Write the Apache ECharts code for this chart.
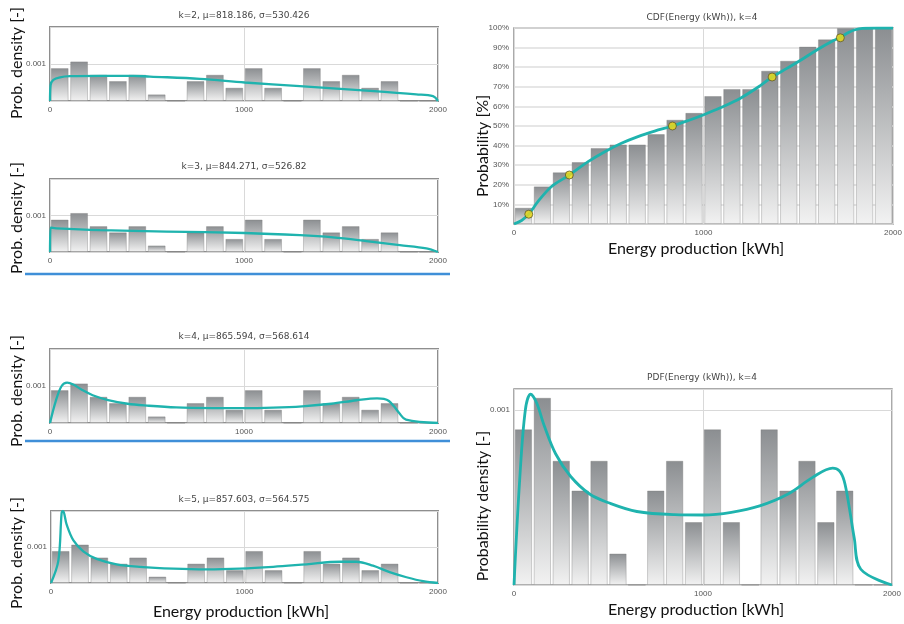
<!DOCTYPE html>
<html>
<head>
<meta charset="utf-8">
<script src="https://cdn.jsdelivr.net/npm/echarts@6/dist/echarts.min.js"></script>
<style>
html, body { margin: 0; padding: 0; background: #fff; }
#chart { width: 904px; height: 624px; }
</style>
</head>
<body>
<div id="chart"></div>
<script>
// histogram bins (kWh)
const bins = ['0-100', '100-200', '200-300', '300-400', '400-500', '500-600', '600-700', '700-800', '800-900', '900-1000',
  '1000-1100', '1100-1200', '1200-1300', '1300-1400', '1400-1500', '1500-1600', '1600-1700', '1700-1800', '1800-1900', '1900-2000'];

// histogram density per bin
const pdfBars = [0.00089, 0.00107, 0.00071, 0.00054, 0.00071, 0.00018, 0, 0.00054, 0.00071, 0.00036,
  0.00089, 0.00036, 0, 0.00089, 0.00054, 0.00071, 0.00036, 0.00054, 0, 0];

// cumulative histogram (%)
const cdfBars = [8.3, 19.2, 26.4, 31.6, 38.8, 40.6, 40.6, 45.9, 53.2, 56.7,
  65.3, 68.9, 68.9, 78.2, 83.3, 90.5, 94.2, 100, 100, 100];

// fitted densities
const k2X = [0, 3, 17, 52, 103, 258, 429, 515, 773, 1004, 1288, 1631, 1888, 1974, 2000];
const k2Y = [0, 0.00043, 0.00057, 0.00064, 0.00067, 0.00068, 0.00068, 0.00066, 0.0006, 0.0005, 0.0004, 0.00028, 0.00018, 0.00013, 0];

const k3X = [0, 3, 34, 258, 601, 1004, 1288, 1459, 1631, 1803, 1940, 2000];
const k3Y = [0, 0.00067, 0.00065, 0.0006, 0.00056, 0.00052, 0.00046, 0.0004, 0.0003, 0.00019, 0.0001, 0];

const k4X = [0, 30, 60, 88, 120, 160, 220, 300, 400, 500, 650, 850, 1000, 1150, 1300, 1450, 1580, 1686,
  1721, 1747, 1774, 1800, 1835, 2000];
const k4Y = [0, 0.0006, 0.001, 0.00109, 0.00104, 0.00091, 0.00075, 0.00062, 0.00052, 0.00047, 0.00042, 0.000402,
  0.0004, 0.000415, 0.000452, 0.00052, 0.000615, 0.000668, 0.000653, 0.000595, 0.000443, 0.00027, 0.00009, 0];

const k5X = [0, 38, 55, 62, 81, 115, 167, 236, 339, 460, 632, 804, 976, 1148, 1320, 1492, 1578, 1664, 1750, 1837, 1923, 2000];
const k5Y = [0, 0.00062, 0.00195, 0.002, 0.00162, 0.00119, 0.00088, 0.00067, 0.00052, 0.00045, 0.0004, 0.00038,
  0.0004, 0.00045, 0.00052, 0.00059, 0.00059, 0.00048, 0.0003, 0.00016, 0.00005, 0];

// fitted CDF (%), k=4
const cdfX = [0, 40, 78, 127, 197, 292, 391, 479, 567, 654, 742, 836, 917, 1005, 1089, 1195, 1300, 1362,
  1440, 1510, 1598, 1686, 1722, 1765, 1800, 1840, 1914, 2000];
const cdfY = [0, 1.8, 5, 11.5, 19, 25, 31.8, 36.9, 41.2, 44.6, 47.4, 50, 52.7, 55.9, 59.3, 64.2, 70.6, 75,
  79.4, 83.4, 88.8, 93.6, 95.2, 97.7, 99.1, 99.8, 100, 100];

// quantile markers
const quantX = [78, 292, 836, 1362, 1722];
const quantY = [5, 25, 50, 75, 95];

const titles = ['k=2, μ=818.186, σ=530.426', 'k=3, μ=844.271, σ=526.82', 'k=4, μ=865.594, σ=568.614',
  'k=5, μ=857.603, σ=564.575', 'CDF(Energy (kWh)), k=4', 'PDF(Energy (kWh)), k=4'];

const pairs = (xs, ys) => xs.map((x, i) => [x, ys[i]]);

const layout = [
  { left: 50, top: 27, width: 388, height: 74, tx: 244, ty: 11 },
  { left: 50, top: 179, width: 388, height: 73, tx: 244, ty: 162 },
  { left: 50, top: 349, width: 388, height: 74, tx: 244, ty: 332 },
  { left: 51, top: 511, width: 387, height: 72, tx: 244, ty: 495 },
  { left: 514, top: 28, width: 379, height: 196, tx: 702, ty: 13 },
  { left: 514, top: 389, width: 378, height: 196, tx: 702, ty: 373 },
];

const curves = [pairs(k2X, k2Y), pairs(k3X, k3Y), pairs(k4X, k4Y), pairs(k5X, k5Y), pairs(cdfX, cdfY), pairs(k4X, k4Y)];
const barSets = [pdfBars, pdfBars, pdfBars, pdfBars, cdfBars, pdfBars];

const TEAL = '#1fb3ae';
const tickFont = { fontSize: 8, color: '#555', fontFamily: 'Liberation Sans' };
const barStyle = {
  color: {
    type: 'linear', x: 0, y: 0, x2: 0, y2: 1,
    colorStops: [{ offset: 0, color: '#8b8e91' }, { offset: 1, color: '#f2f2f2' }],
  },
  borderColor: 'rgba(120,120,120,0.35)',
  borderWidth: 1,
};

const grid = [];
const xAxis = [];
const yAxis = [];
const series = [];
const title = [];

layout.forEach((l, i) => {
  const right = i >= 4;
  grid.push({
    left: l.left, top: l.top, width: l.width, height: l.height,
    show: true, borderColor: '#8e8e8e', borderWidth: right ? 1.5 : 2,
    outerBoundsMode: 'none',
  });
  title.push({
    text: titles[i], left: l.tx, top: l.ty, textAlign: 'center', padding: 0,
    textStyle: { fontSize: 9, fontWeight: 'normal', color: '#444', fontFamily: 'DejaVu Sans' },
  });
  xAxis.push({
    type: 'category', gridIndex: i, position: 'bottom', data: bins, show: false, boundaryGap: true,
  });
  xAxis.push({
    type: 'value', gridIndex: i, position: 'bottom', min: 0, max: 2000, interval: 1000,
    axisLine: { show: false }, axisTick: { show: false },
    axisLabel: { ...tickFont, margin: 5, formatter: (v) => String(v) },
    splitLine: { show: true, lineStyle: { color: '#d9d9d9', width: 1 } },
  });
  if (i === 4) {
    yAxis.push({
      type: 'value', gridIndex: i, min: 0, max: 100, interval: 10,
      axisLine: { show: false }, axisTick: { show: false },
      axisLabel: { ...tickFont, margin: 5, formatter: (v) => (v ? v + '%' : '') },
      splitLine: { show: true, lineStyle: { color: '#dedede', width: 1.5 } },
    });
  } else {
    yAxis.push({
      type: 'value', gridIndex: i, min: 0, max: i === 5 ? 0.00112 : 0.002, interval: 0.001,
      axisLine: { show: false }, axisTick: { show: false },
      axisLabel: { ...tickFont, margin: 4, formatter: (v) => (Math.abs(v - 0.001) < 1e-9 ? '0.001' : '') },
      splitLine: { show: true, lineStyle: { color: '#d9d9d9', width: 1 } },
    });
  }
  series.push({
    type: 'bar', xAxisIndex: 2 * i, yAxisIndex: i, data: barSets[i],
    barCategoryGap: '8%', itemStyle: barStyle, silent: true,
  });
  series.push({
    type: 'line', xAxisIndex: 2 * i + 1, yAxisIndex: i, data: curves[i],
    symbol: 'none', smooth: 0.35,
    lineStyle: { color: TEAL, width: right ? 2.8 : 2.3 }, silent: true, z: 3,
  });
});

series.push({
  type: 'scatter', xAxisIndex: 9, yAxisIndex: 4, data: pairs(quantX, quantY),
  symbolSize: 8, itemStyle: { color: '#f3dc12', borderColor: '#5c5a2a', borderWidth: 1 }, z: 4,
});

const bigFont = '16px Lato';
const vText = (text, x, y) => ({
  type: 'text', x, y, rotation: Math.PI / 2,
  style: { text, fill: '#111', font: bigFont, align: 'center', verticalAlign: 'middle' },
});
const hText = (text, x, y) => ({
  type: 'text', x, y,
  style: { text, fill: '#111', font: bigFont, align: 'center', verticalAlign: 'middle' },
});

const graphic = [
  vText('Prob. density [-]', 17, 63),
  vText('Prob. density [-]', 17, 218),
  vText('Prob. density [-]', 17, 391),
  vText('Prob. density [-]', 17, 553),
  vText('Probability [%]', 483, 146),
  vText('Probability density [-]', 483, 506),
  hText('Energy production [kWh]', 241, 612),
  hText('Energy production [kWh]', 696, 249),
  hText('Energy production [kWh]', 696, 610),
  { type: 'line', shape: { x1: 25, y1: 274, x2: 450, y2: 274 }, style: { stroke: '#3f8fd8', lineWidth: 2.5 } },
  { type: 'line', shape: { x1: 25, y1: 441, x2: 450, y2: 441 }, style: { stroke: '#3f8fd8', lineWidth: 2.5 } },
];

const chart = echarts.init(document.getElementById('chart'));
chart.setOption({
  animation: false,
  backgroundColor: '#fff',
  title,
  grid,
  xAxis,
  yAxis,
  series,
  graphic,
});
</script>
</body>
</html>
